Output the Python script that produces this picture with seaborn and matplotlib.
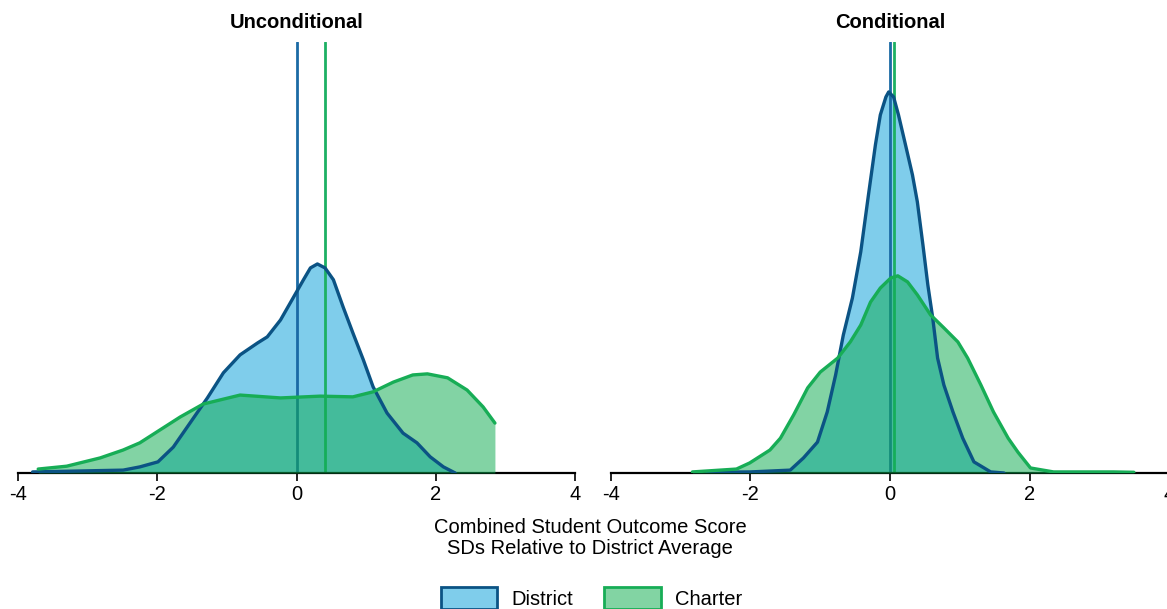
import numpy as np
import pandas as pd
import matplotlib
matplotlib.use("Agg")
import matplotlib.pyplot as plt
from matplotlib.patches import Patch
import seaborn as sns

# ---- data (x in SDs, y = density) ----
unc_district_x = [-3.79, -2.49, -2.25, -1.99, -1.77, -1.53, -1.28, -1.05, -0.81, -0.56,
                  -0.42, -0.23, -0.05, 0.10, 0.20, 0.30, 0.41, 0.53, 0.67, 0.81,
                  0.96, 1.10, 1.30, 1.53, 1.73, 1.92, 2.11, 2.28]
unc_district_y = [0.003, 0.008, 0.017, 0.031, 0.072, 0.139, 0.209, 0.279, 0.329, 0.362,
                  0.379, 0.426, 0.487, 0.538, 0.571, 0.582, 0.571, 0.538, 0.462, 0.390,
                  0.315, 0.240, 0.167, 0.111, 0.084, 0.045, 0.017, 0.0]

unc_charter_x = [-3.71, -3.30, -2.82, -2.49, -2.25, -1.96, -1.67, -1.34, -0.81, -0.23,
                 0.34, 0.81, 1.10, 1.39, 1.67, 1.88, 2.17, 2.45, 2.68, 2.85]
unc_charter_y = [0.011, 0.019, 0.042, 0.064, 0.084, 0.120, 0.156, 0.192, 0.217, 0.209,
                 0.214, 0.212, 0.226, 0.253, 0.273, 0.276, 0.265, 0.231, 0.184, 0.139]

con_district_x = [-2.62, -2.00, -1.43, -1.24, -1.04, -0.90, -0.78, -0.67, -0.54, -0.42,
                  -0.31, -0.21, -0.14, -0.06, -0.02, 0.05, 0.12, 0.22, 0.32, 0.39,
                  0.47, 0.54, 0.61, 0.68, 0.77, 0.90, 1.04, 1.20, 1.44, 1.63]
con_district_y = [0.002, 0.003, 0.008, 0.042, 0.086, 0.170, 0.273, 0.384, 0.487, 0.616,
                  0.774, 0.914, 0.997, 1.047, 1.061, 1.047, 0.997, 0.914, 0.830, 0.755,
                  0.635, 0.524, 0.432, 0.320, 0.245, 0.170, 0.097, 0.031, 0.003, 0.0]

con_charter_x = [-2.83, -2.20, -2.01, -1.72, -1.57, -1.38, -1.18, -1.00, -0.75, -0.57,
                 -0.42, -0.28, -0.14, 0.01, 0.11, 0.25, 0.39, 0.58, 0.77, 0.97,
                 1.11, 1.30, 1.48, 1.69, 1.83, 2.01, 2.34, 3.20, 3.49]
con_charter_y = [0.003, 0.011, 0.028, 0.064, 0.097, 0.162, 0.237, 0.281, 0.320, 0.365,
                 0.412, 0.476, 0.515, 0.543, 0.549, 0.532, 0.496, 0.440, 0.404, 0.365,
                 0.320, 0.245, 0.170, 0.097, 0.058, 0.014, 0.003, 0.003, 0.002]

unc_means = {"District": 0.0, "Charter": 0.41}
con_means = {"District": 0.0, "Charter": 0.06}

panel_titles = ["Unconditional", "Conditional"]
x_ticks = [-4, -2, 0, 2, 4]
x_label = "Combined Student Outcome Score\nSDs Relative to District Average"
groups = ["District", "Charter"]

# ---- styles ----
fill_col = {"District": "#7fcdeb", "Charter": "#0fac52"}
fill_alpha = {"District": 1.0, "Charter": 0.52}
edge_col = {"District": "#0b5384", "Charter": "#17ad56"}
vline_col = {"District": "#1b6aa5", "Charter": "#1db063"}
FS = 14.5

sns.set_theme(style="white")
plt.rcParams["font.family"] = ["Liberation Sans", "DejaVu Sans"]
plt.rcParams["text.color"] = "black"

W, H = 1167, 609
fig = plt.figure(figsize=(W / 100, H / 100), dpi=100)

def axpos(x0, x1, ytop, ybot):
    return [x0 / W, 1 - ybot / H, (x1 - x0) / W, (ybot - ytop) / H]

axes = [fig.add_axes(axpos(18, 575, 42, 473)),
        fig.add_axes(axpos(610.7, 1169.5, 42, 473))]

panels = [
    ({"District": (unc_district_x, unc_district_y), "Charter": (unc_charter_x, unc_charter_y)}, unc_means),
    ({"District": (con_district_x, con_district_y), "Charter": (con_charter_x, con_charter_y)}, con_means),
]

for ax, (curves, means), title in zip(axes, panels, panel_titles):
    dx, dy = curves["District"]
    ax.fill_between(dx, 0, dy, color=fill_col["District"], alpha=1, linewidth=0, zorder=1)
    for g in groups:
        ax.axvline(means[g], color=vline_col[g], lw=2, zorder=2)
    cx, cy = curves["Charter"]
    ax.fill_between(cx, 0, cy, color=fill_col["Charter"], alpha=fill_alpha["Charter"],
                    linewidth=0, zorder=3)
    for g in groups:
        x, y = curves[g]
        df = pd.DataFrame({"x": x, "y": y})
        sns.lineplot(data=df, x="x", y="y", ax=ax, color=edge_col[g], lw=2.4,
                     sort=False, estimator=None, zorder=4,
                     solid_joinstyle="round", solid_capstyle="round")
    ax.set_xlim(-4, 4)
    ax.set_ylim(0, 1.2)
    ax.set_xticks(x_ticks)
    ax.set_xticklabels([str(t) for t in x_ticks])
    ax.set_yticks([])
    ax.set_xlabel("")
    ax.set_ylabel("")
    for s in ["top", "right", "left"]:
        ax.spines[s].set_visible(False)
    ax.spines["bottom"].set_color("black")
    ax.spines["bottom"].set_linewidth(1.6)
    ax.tick_params(axis="x", direction="out", length=6, width=1.2, color="black",
                   labelsize=FS, pad=3, bottom=True, labelcolor="black")
    ax.set_title(title, fontsize=FS, fontweight="bold", pad=10, color="black")
    ax.patch.set_alpha(0)

fig.text(590 / W, 1 - 538 / H, x_label, ha="center", va="center", fontsize=FS,
         linespacing=1.1, color="black")

handles = [Patch(facecolor="#7fcdeb", edgecolor=edge_col["District"], linewidth=2),
           Patch(facecolor="#82d4a3", edgecolor=edge_col["Charter"], linewidth=2)]
fig.legend(handles, groups, loc="upper left", bbox_to_anchor=(441 / W, 1 - 587 / H),
           ncol=2, frameon=False, fontsize=FS, handlelength=2.8, handleheight=1.3,
           handletextpad=0.7, columnspacing=1.55, borderpad=0, borderaxespad=0,
           labelcolor="black")

fig.savefig("out.png", dpi=100)
